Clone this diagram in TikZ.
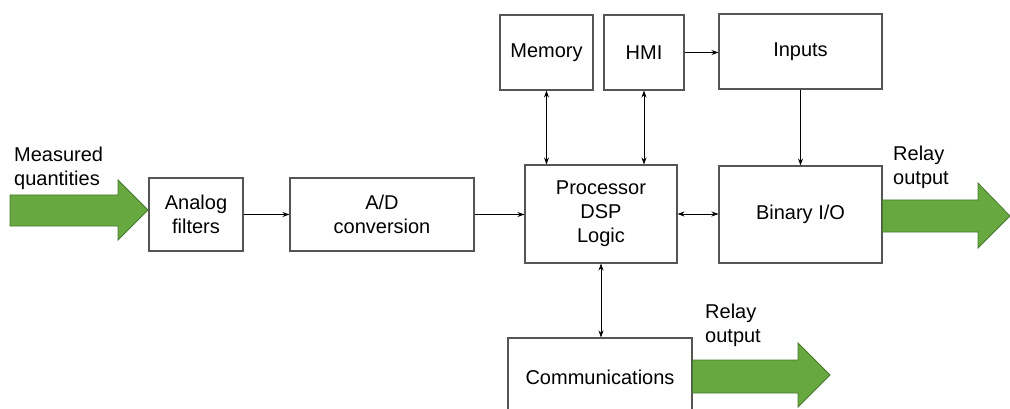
\documentclass[tikz,border=0pt]{standalone}
\usepackage{fontspec}
\setmainfont{Liberation Sans}
\usetikzlibrary{arrows.meta}
\definecolor{boxline}{RGB}{85,85,85}
\definecolor{gfill}{RGB}{104,168,64}
\definecolor{gline}{RGB}{70,120,45}
\tikzset{
  blk/.style={draw=boxline, line width=1.1pt, fill=white, inner sep=0pt, align=center,
              font=\fontsize{20}{24}\selectfont},
  conn/.style={line width=0.8pt, -{Stealth[length=7pt,width=5pt]}},
  bconn/.style={line width=0.8pt, {Stealth[length=7pt,width=5pt]}-{Stealth[length=7pt,width=5pt]}},
  garrow/.style={fill=gfill, draw=gline, line width=0.8pt},
  lbl/.style={inner sep=0pt, align=left, anchor=west, font=\fontsize{20}{24}\selectfont}
}
\begin{document}
\begin{tikzpicture}[x=1pt,y=-1pt]
\useasboundingbox (0,0) rectangle (1010,409);
\clip (0,0) rectangle (1010,409);
% boxes
\node[blk, minimum width=94pt, minimum height=73pt] (analog) at (196,214.5) {Analog\\filters};
\node[blk, minimum width=184pt, minimum height=73pt] (ad) at (382,214.5) {A/D\\conversion};
\node[blk, minimum width=152pt, minimum height=98pt] (proc) at (601,214) {Processor\\DSP\\Logic};
\node[blk, minimum width=93pt, minimum height=75pt] (mem) at (546.5,52.5) {Memory};
\node[blk, minimum width=80pt, minimum height=75pt] (hmi) at (644,52.5) {HMI};
\node[blk, minimum width=163pt, minimum height=75pt] (inputs) at (800.5,51.5) {Inputs};
\node[blk, minimum width=163pt, minimum height=97pt] (binary) at (800.5,214.5) {Binary I/O};
\node[blk, minimum width=184pt, minimum height=78pt] (comm) at (600,377) {Communications};
% connectors
\draw[conn] (analog.east) -- (ad.west);
\draw[conn] (ad.east) -- (ad.east -| proc.west);
\draw[bconn] (mem.south) -- (mem.south |- proc.north);
\draw[bconn] (hmi.south) -- (hmi.south |- proc.north);
\draw[conn] (hmi.east) -- (hmi.east -| inputs.west);
\draw[conn] (inputs.south) -- (binary.north);
\draw[bconn] (proc.east) -- (proc.east -| binary.west);
\draw[bconn] (proc.south) -- (proc.south |- comm.north);
% green arrows
\draw[garrow] (10,195) -- (118,195) -- (118,180) -- (148,210) -- (118,240) -- (118,226) -- (10,226) -- cycle;
\draw[garrow] (882.5,200) -- (978,200) -- (978,183) -- (1010,216) -- (978,248) -- (978,232) -- (882.5,232) -- cycle;
\draw[garrow] (692.5,360) -- (798,360) -- (798,343) -- (830,375) -- (798,407) -- (798,393) -- (692.5,393) -- cycle;
% labels
\node[lbl] (meas) at (14,168.5) {Measured\\quantities};
\node[lbl] (relay1) at (893,167.5) {Relay\\output};
\node[lbl] (relay2) at (705,325) {Relay\\output};
\end{tikzpicture}
\end{document}
